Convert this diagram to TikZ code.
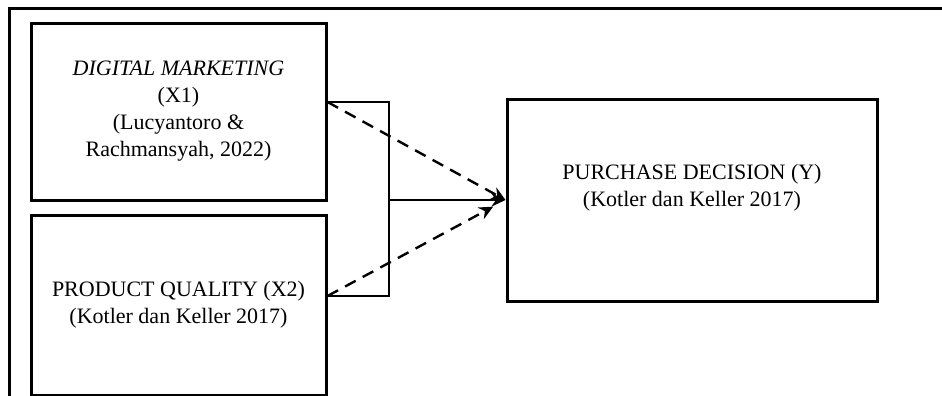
\documentclass[tikz,border=0pt]{standalone}
\usepackage{fontspec}
\setmainfont{Liberation Serif}
\usepackage{tikz}
\usetikzlibrary{arrows.meta}
\tikzstyle{var} = [rectangle, text centered, align=center, line width=1.5pt, draw=black, minimum width=147.5pt, inner sep=0pt, font=\fontsize{11}{13.5}\selectfont]
\tikzstyle{dep} = [rectangle, line width=1.5pt, draw=black, minimum width=185pt, minimum height=101pt, inner sep=0pt]
\tikzstyle{link} = [line width=1.4pt, black]
\tikzstyle{flow} = [line width=1.2pt, black, dash pattern=on 6pt off 4pt]

\begin{document}
\begin{tikzpicture}[x=0.5pt, y=-0.5pt, >={Stealth[length=7pt,width=6.5pt]}]
    \useasboundingbox (0,0) rectangle (942,396);
    \draw[line width=1.5pt] (942,8) -- (9,8) -- (9,396);
    \node (X1) [var, minimum height=88.5pt] at (178.5,111.5) { \textit{DIGITAL MARKETING}\\(X1)\\(Lucyantoro \&\\Rachmansyah, 2022) };
    \node (X2) [var, minimum height=90pt] at (178.5,305) { PRODUCT QUALITY (X2)\\(Kotler dan Keller 2017) };
    \node (Y) [dep, label={[align=center, yshift=6pt, font=\fontsize{11}{13.5}\selectfont]center:PURCHASE DECISION (Y)\\(Kotler dan Keller 2017)}] at (692,200) {};
    \coordinate (j1) at (389,102);
    \coordinate (j2) at (389,296);
    \coordinate (jm) at (389,200);
    \draw[link] (X1.east |- j1) -- (j1) -- (j2) -- (X2.east |- j2);
    \draw[link,->] (jm) -- (Y.west);
    \draw[flow,->] (X1.east |- j1) -- (Y.west);
    \draw[flow,->,shorten >=7pt] (X2.east |- j2) -- (Y.west);
\end{tikzpicture}
\end{document}
